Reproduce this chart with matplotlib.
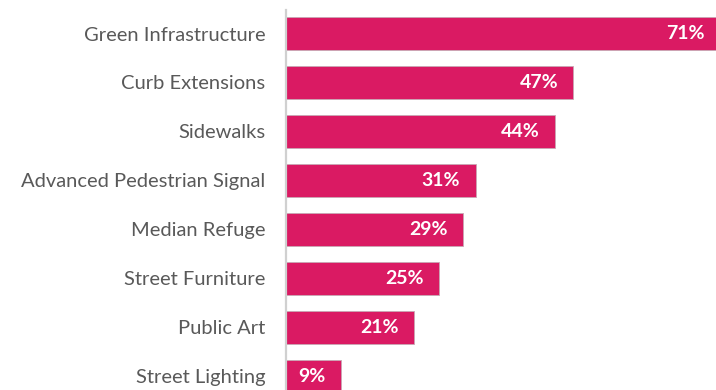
import matplotlib.pyplot as plt
from matplotlib.transforms import offset_copy

categories = ['Green Infrastructure', 'Curb Extensions', 'Sidewalks',
              'Advanced Pedestrian Signal', 'Median Refuge', 'Street Furniture',
              'Public Art', 'Street Lighting']
values = [71, 47, 44, 31, 29, 25, 21, 9]

BAR_COLOR = '#DA1A63'
TEXT_COLOR = '#595959'

plt.rcParams['font.family'] = ['Lato', 'DejaVu Sans']

fig = plt.figure(figsize=(7.16, 3.9), dpi=100)
ax = fig.add_axes([0.3994, 0.0, 0.6006, 0.9744])

pos = list(range(len(categories)))
ax.barh(pos, values, height=0.67, color=BAR_COLOR,
        edgecolor='#C8A8B4', linewidth=0.6)

# value labels sit inside the bar end
lbl_tf = offset_copy(ax.transData, fig=fig, x=-11, y=0, units='points')
for p, v in zip(pos, values):
    ax.text(v, p, f'{v}%', transform=lbl_tf, ha='right', va='center',
            color='white', fontsize=14, fontweight='bold', clip_on=False)

ax.set_xlim(0, 70.3)
ax.set_ylim(7.276, -0.48)
ax.set_yticks(pos)
ax.set_yticklabels(categories, fontsize=14.5, color=TEXT_COLOR)
ax.tick_params(axis='y', length=0, pad=15)
ax.set_xticks([])

for side in ['top', 'right', 'bottom']:
    ax.spines[side].set_visible(False)
ax.spines['left'].set_color('#D0D0D0')
ax.spines['left'].set_linewidth(1.6)

fig.savefig('out.png', dpi=100)
